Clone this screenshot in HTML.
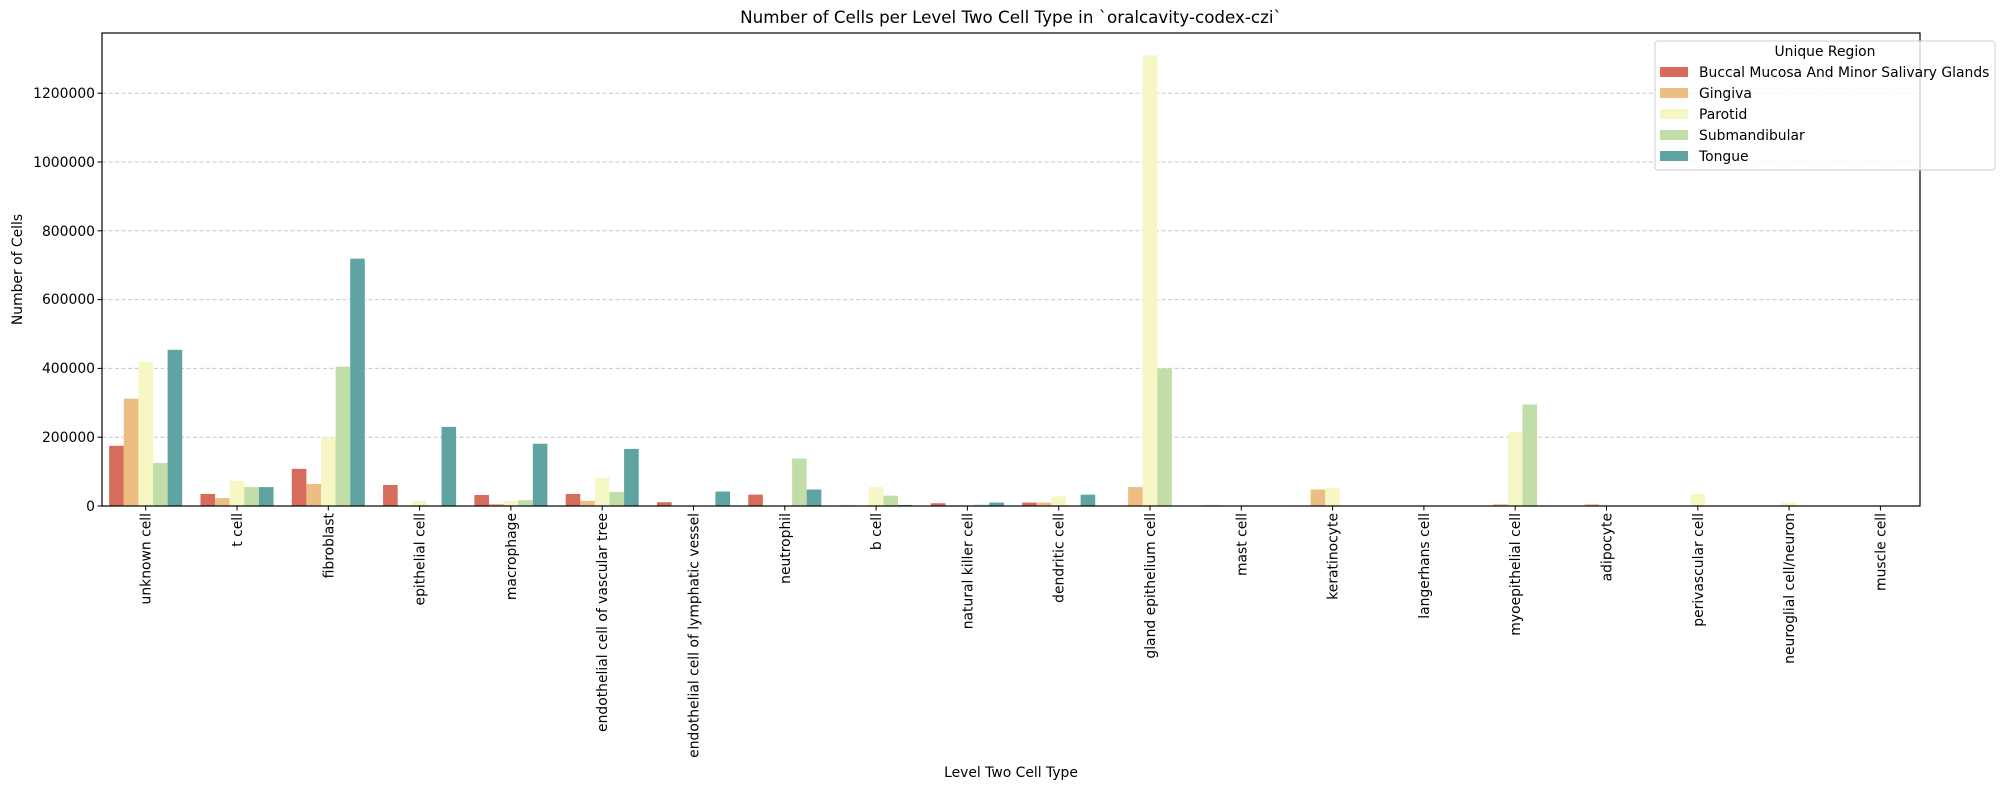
<!DOCTYPE html>
<html><head><meta charset="utf-8"><style>
html,body{margin:0;padding:0;background:#fff;}
svg{display:block;font-family:"DejaVu Sans","Liberation Sans",sans-serif;}
</style></head><body>
<svg id="s" width="2004" height="790" viewBox="0 0 2004 790" xmlns="http://www.w3.org/2000/svg">
<rect width="2004" height="790" fill="#fff"/>
<g id="grid" stroke="#c8c8c8" stroke-width="1" stroke-dasharray="4,2.5"></g>
<g id="bars"></g>
<rect x="102" y="33" width="1818" height="473" fill="none" stroke="#000" stroke-width="1.2"/>
<g id="yt" font-size="13.9" text-anchor="end" fill="#000">
<text x="95" y="511">0</text>
<text x="95" y="442">200000</text>
<text x="95" y="373">400000</text>
<text x="95" y="304">600000</text>
<text x="95" y="236">800000</text>
<text x="95" y="167">1000000</text>
<text x="95" y="98">1200000</text>
</g>
<g id="ticks" stroke="#000" stroke-width="1"></g>
<g id="xl" font-size="13.9" text-anchor="end" fill="#000">
<text transform="translate(150.7,513) rotate(-90)">unknown cell</text>
<text transform="translate(242,513) rotate(-90)">t cell</text>
<text transform="translate(333,513) rotate(-90)">fibroblast</text>
<text transform="translate(424,513) rotate(-90)">epithelial cell</text>
<text transform="translate(516,513) rotate(-90)">macrophage</text>
<text transform="translate(607,513) rotate(-90)">endothelial cell of vascular tree</text>
<text transform="translate(698,513) rotate(-90)">endothelial cell of lymphatic vessel</text>
<text transform="translate(790,513) rotate(-90)">neutrophil</text>
<text transform="translate(881,513) rotate(-90)">b cell</text>
<text transform="translate(972,513) rotate(-90)">natural killer cell</text>
<text transform="translate(1064,513) rotate(-90)">dendritic cell</text>
<text transform="translate(1155,513) rotate(-90)">gland epithelium cell</text>
<text transform="translate(1246,513) rotate(-90)">mast cell</text>
<text transform="translate(1337,513) rotate(-90)">keratinocyte</text>
<text transform="translate(1429,513) rotate(-90)">langerhans cell</text>
<text transform="translate(1520,513) rotate(-90)">myoepithelial cell</text>
<text transform="translate(1611,513) rotate(-90)">adipocyte</text>
<text transform="translate(1703,513) rotate(-90)">perivascular cell</text>
<text transform="translate(1794,513) rotate(-90)">neuroglial cell/neuron</text>
<text transform="translate(1886,513) rotate(-90)">muscle cell</text>
</g>
<text x="1011" y="777" font-size="13.9" text-anchor="middle">Level Two Cell Type</text>
<text transform="translate(22,269.5) rotate(-90)" font-size="13.9" text-anchor="middle">Number of Cells</text>
<text x="1011" y="23" font-size="16.7" text-anchor="middle">Number of Cells per Level Two Cell Type in `oralcavity-codex-czi`</text>
<g>
<rect x="1655" y="41" width="340" height="129" rx="3" fill="#fff" fill-opacity="0.8" stroke="#ccc" stroke-width="1"/>
<text x="1825" y="56" font-size="13.9" text-anchor="middle">Unique Region</text>
<rect x="1660" y="67" width="28" height="10" fill="#d76b5c"/>
<text x="1699" y="77" font-size="13.9">Buccal Mucosa And Minor Salivary Glands</text>
<rect x="1660" y="88" width="28" height="10" fill="#ecbe82"/>
<text x="1699" y="98" font-size="13.9">Gingiva</text>
<rect x="1660" y="109" width="28" height="10" fill="#f7f6c5"/>
<text x="1699" y="119" font-size="13.9">Parotid</text>
<rect x="1660" y="130" width="28" height="10" fill="#c1dea9"/>
<text x="1699" y="140" font-size="13.9">Submandibular</text>
<rect x="1660" y="151" width="28" height="10" fill="#5fa3a2"/>
<text x="1699" y="161" font-size="13.9">Tongue</text>
</g>
</svg>
<script>
(function(){
var NS="http://www.w3.org/2000/svg";
var cols=["#d76b5c","#ecbe82","#f7f6c5","#c1dea9","#5fa3a2"];
var d=[[175,312,419,125,454],[35,23,73,55,55],[108,64,200,405,719],[61,0,15,0,230],[32,6,15,17,181],[35,15,82,41,166],[11,0,3,0,42],[33,0,0,138,48],[2,0,55,30,3],[8,2,3,4,10],[10,10,28,0,33],[0,55,1310,400,0],[2,0,0,0,0],[0,48,53,0,0],[0,0,1,0,0],[0,5,215,295,0],[0,5,0,0,0],[0,0,35,0,0],[0,0,10,0,0],[0,0,2,0,0]];
var base=506,k=68.8/200,sp=91.3,bw=sp*0.16;
var g=document.getElementById("grid");
for(var v=200;v<=1200;v+=200){var y=base-v*k;var l=document.createElementNS(NS,"line");l.setAttribute("x1",102);l.setAttribute("x2",1920);l.setAttribute("y1",y);l.setAttribute("y2",y);g.appendChild(l);}
var yt=document.getElementById("ticks");
for(var v=0;v<=1200;v+=200){var y=base-v*k;var l=document.createElementNS(NS,"line");l.setAttribute("x1",97.5);l.setAttribute("x2",102);l.setAttribute("y1",y);l.setAttribute("y2",y);yt.appendChild(l);}
var b=document.getElementById("bars");
var texts=document.querySelectorAll("#xl text");
for(var i=0;i<d.length;i++){var xc=145.7+sp*i;
var t=document.createElementNS(NS,"line");t.setAttribute("x1",xc);t.setAttribute("x2",xc);t.setAttribute("y1",506);t.setAttribute("y2",510.5);yt.appendChild(t);
if(texts[i])texts[i].setAttribute("transform","translate("+(xc+5)+",513) rotate(-90)");
for(var j=0;j<5;j++){var v=d[i][j];if(!v)continue;var h=v*k;var r=document.createElementNS(NS,"rect");r.setAttribute("x",xc-2.5*bw+j*bw);r.setAttribute("width",bw);r.setAttribute("y",base-h);r.setAttribute("height",h);r.setAttribute("fill",cols[j]);b.appendChild(r);}}
})();
</script>
</body></html>
